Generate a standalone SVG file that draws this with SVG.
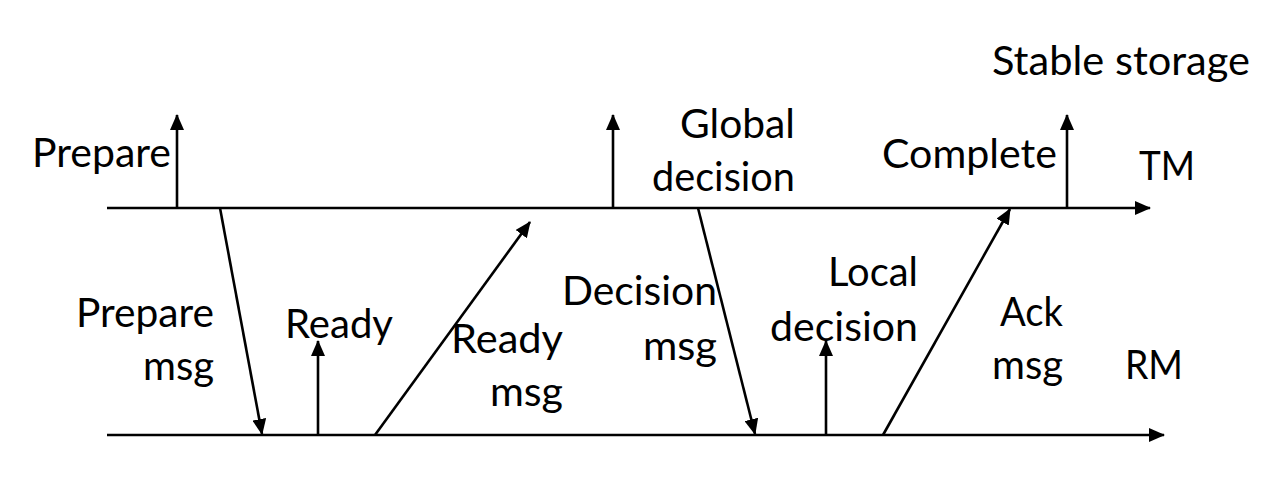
<svg xmlns="http://www.w3.org/2000/svg" width="1283" height="497" viewBox="0 0 1283 497">
<style>
.t{font-family:Lato,"Noto Sans","Liberation Sans",sans-serif;font-size:40px;fill:#000}
.e{text-anchor:end}
.ln{stroke:#000;stroke-width:2.6;fill:none}
</style>
<defs>
<marker id="ah" markerUnits="userSpaceOnUse" markerWidth="16" markerHeight="14" viewBox="0 0 16 14" refX="15" refY="7" orient="auto">
<path d="M0,0 L16,7 L0,14 Z" fill="#000"/>
</marker>
</defs>
<rect width="1283" height="497" fill="#fff"/>
<g id="connectors">
<line class="ln" x1="107" y1="208" x2="1150" y2="208" marker-end="url(#ah)"/>
<line class="ln" x1="107" y1="435" x2="1164" y2="435" marker-end="url(#ah)"/>
<line class="ln" x1="177" y1="208" x2="177" y2="115" marker-end="url(#ah)"/>
<line class="ln" x1="613" y1="208" x2="613" y2="115" marker-end="url(#ah)"/>
<line class="ln" x1="1067" y1="208" x2="1067" y2="115" marker-end="url(#ah)"/>
<line class="ln" x1="318" y1="435" x2="318" y2="341" marker-end="url(#ah)"/>
<line class="ln" x1="826" y1="435" x2="826" y2="341" marker-end="url(#ah)"/>
<line class="ln" x1="220" y1="208" x2="262" y2="434" marker-end="url(#ah)"/>
<line class="ln" x1="698" y1="208" x2="755" y2="434" marker-end="url(#ah)"/>
<line class="ln" x1="375" y1="435" x2="530" y2="222" marker-end="url(#ah)"/>
<line class="ln" x1="883" y1="435" x2="1010" y2="209" marker-end="url(#ah)"/>
</g>
<g id="stable-storage"><text class="t" x="992" y="75" textLength="258" lengthAdjust="spacingAndGlyphs">Stable storage</text></g>
<g id="prepare"><text class="t" x="32" y="167" textLength="139" lengthAdjust="spacingAndGlyphs">Prepare</text></g>
<g id="global-decision">
<text class="t e" x="795" y="138" textLength="115" lengthAdjust="spacingAndGlyphs">Global</text>
<text class="t e" x="795" y="191" textLength="143" lengthAdjust="spacingAndGlyphs">decision</text>
</g>
<g id="complete"><text class="t" x="882" y="168" textLength="175" lengthAdjust="spacingAndGlyphs">Complete</text></g>
<g id="tm"><text class="t" x="1139" y="180" textLength="56" lengthAdjust="spacingAndGlyphs">TM</text></g>
<g id="prepare-msg">
<text class="t e" x="214" y="327" textLength="138" lengthAdjust="spacingAndGlyphs">Prepare</text>
<text class="t e" x="214" y="380" textLength="71" lengthAdjust="spacingAndGlyphs">msg</text>
</g>
<g id="ready"><text class="t" x="285" y="338" textLength="108" lengthAdjust="spacingAndGlyphs">Ready</text></g>
<g id="ready-msg">
<text class="t e" x="563" y="353" textLength="112" lengthAdjust="spacingAndGlyphs">Ready</text>
<text class="t e" x="563" y="406" textLength="73" lengthAdjust="spacingAndGlyphs">msg</text>
</g>
<g id="decision-msg">
<text class="t e" x="717" y="305" textLength="155" lengthAdjust="spacingAndGlyphs">Decision</text>
<text class="t e" x="717" y="360" textLength="74" lengthAdjust="spacingAndGlyphs">msg</text>
</g>
<g id="local-decision">
<text class="t e" x="918" y="286" textLength="90" lengthAdjust="spacingAndGlyphs">Local</text>
<text class="t e" x="918" y="341" textLength="148" lengthAdjust="spacingAndGlyphs">decision</text>
</g>
<g id="ack-msg">
<text class="t e" x="1063" y="326" textLength="63" lengthAdjust="spacingAndGlyphs">Ack</text>
<text class="t e" x="1063" y="379" textLength="71" lengthAdjust="spacingAndGlyphs">msg</text>
</g>
<g id="rm"><text class="t" x="1125" y="379" textLength="58" lengthAdjust="spacingAndGlyphs">RM</text></g>
</svg>
